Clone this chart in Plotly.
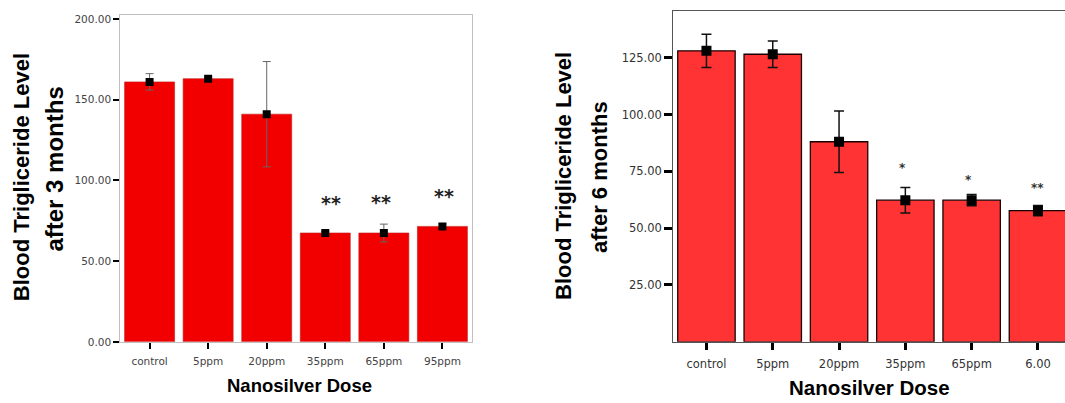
import plotly.graph_objects as go

# ---- data ----
cats_3m = ["control", "5ppm", "20ppm", "35ppm", "65ppm", "95ppm"]
mean_3m = [161.0, 163.0, 141.0, 67.4, 67.4, 71.5]
err_3m = [5.1, 1.0, 32.6, 1.0, 5.5, 1.5]
stars_3m_cat = ["35ppm", "65ppm", "95ppm"]
stars_3m_y = [89.1, 89.5, 93.5]
stars_3m_txt = ["**", "**", "**"]
stars_3m_dx = [6, -3, 2]

cats_6m = ["control", "5ppm", "20ppm", "35ppm", "65ppm", "6.00"]
mean_6m = [128.0, 126.5, 88.0, 62.3, 62.3, 57.7]
err_6m = [7.3, 5.8, 13.5, 5.6, 2.5, 2.3]
stars_6m_cat = ["35ppm", "65ppm", "6.00"]
stars_6m_y = [77.9, 72.3, 68.8]
stars_6m_txt = ["*", "*", "**"]
stars_6m_dx = [-3, -3, 0]

yticks_3m = [0, 50, 100, 150, 200]
yticks_6m = [25, 50, 75, 100, 125]

W, H = 1065, 403

def px_x(p):
    return p / W

def px_y(p):
    return (H - p) / H

fig = go.Figure()

# left chart
fig.add_trace(go.Bar(
    x=cats_3m, y=mean_3m, xaxis="x", yaxis="y", width=0.854,
    marker=dict(color="#f20000", line=dict(color="#c02020", width=0.6)),
    hoverinfo="skip", showlegend=False))
fig.add_trace(go.Scatter(
    x=cats_3m, y=mean_3m, xaxis="x", yaxis="y", mode="markers",
    marker=dict(symbol="square", size=8, color="black"),
    error_y=dict(type="data", array=err_3m, color="#666666", thickness=1, width=4),
    hoverinfo="skip", showlegend=False))

# right chart
fig.add_trace(go.Bar(
    x=cats_6m, y=mean_6m, xaxis="x2", yaxis="y2", width=0.866,
    marker=dict(color="#ff3333", line=dict(color="#1a0000", width=1.3)),
    hoverinfo="skip", showlegend=False))
fig.add_trace(go.Scatter(
    x=cats_6m, y=mean_6m, xaxis="x2", yaxis="y2", mode="markers",
    marker=dict(symbol="square", size=10, color="black"),
    error_y=dict(type="data", array=err_6m, color="#111111", thickness=1.5, width=5),
    hoverinfo="skip", showlegend=False))

tick_font_l = dict(family="DejaVu Sans", size=10.5, color="#444444")
tick_font_r = dict(family="DejaVu Sans", size=11.5, color="#333333")

annotations = []
for c, yv, t, dx in zip(stars_3m_cat, stars_3m_y, stars_3m_txt, stars_3m_dx):
    annotations.append(dict(x=cats_3m.index(c), y=yv, xref="x", yref="y", text=f"<b>{t}</b>",
                            showarrow=False, xshift=dx, yshift=-5,
                            font=dict(family="DejaVu Sans", size=19, color="#222222")))
for c, yv, t, dx in zip(stars_6m_cat, stars_6m_y, stars_6m_txt, stars_6m_dx):
    annotations.append(dict(x=cats_6m.index(c), y=yv, xref="x2", yref="y2", text=f"<b>{t}</b>",
                            showarrow=False, xshift=dx, yshift=-3,
                            font=dict(family="DejaVu Sans", size=12, color="#333333")))

title_font = dict(family="Liberation Sans, Arial", color="black")
annotations += [
    dict(x=px_x(21.7), y=px_y(179), xref="paper", yref="paper", text="<b>Blood Trigliceride Level</b>",
         textangle=-90, showarrow=False, xanchor="center", yanchor="middle", font=dict(size=22, **title_font)),
    dict(x=px_x(55), y=px_y(171), xref="paper", yref="paper", text="<b>after 3 months</b>",
         textangle=-90, showarrow=False, xanchor="center", yanchor="middle", font=dict(size=24, **title_font)),
    dict(x=px_x(564), y=px_y(177.5), xref="paper", yref="paper", text="<b>Blood Trigliceride Level</b>",
         textangle=-90, showarrow=False, xanchor="center", yanchor="middle", font=dict(size=22, **title_font)),
    dict(x=px_x(600), y=px_y(178.5), xref="paper", yref="paper", text="<b>after 6 months</b>",
         textangle=-90, showarrow=False, xanchor="center", yanchor="middle", font=dict(size=22, **title_font)),
    dict(x=px_x(299), y=px_y(391), xref="paper", yref="paper", text="<b>Nanosilver Dose</b>",
         showarrow=False, xanchor="center", yanchor="middle", font=dict(size=18.5, **title_font)),
    dict(x=px_x(869), y=px_y(393), xref="paper", yref="paper", text="<b>Nanosilver Dose</b>",
         showarrow=False, xanchor="center", yanchor="middle", font=dict(size=20.5, **title_font)),
]

fig.update_layout(
    width=W, height=H,
    margin=dict(l=0, r=0, t=0, b=0),
    paper_bgcolor="white", plot_bgcolor="white",
    xaxis=dict(domain=[px_x(120.3), px_x(471.7)], type="category", range=[-0.5, 5.5],
               showline=True, linecolor="#c0c0c0", linewidth=1, mirror=True,
               ticks="outside", ticklen=6, tickwidth=2, tickcolor="black",
               ticklabelstandoff=4,
               tickfont=tick_font_l, showgrid=False, zeroline=False, fixedrange=True),
    yaxis=dict(domain=[px_y(346.7), px_y(13.3)], range=[0, 202.4],
               tickvals=yticks_3m, ticktext=[f"{v:.2f}" for v in yticks_3m],
               showline=True, linecolor="#c0c0c0", linewidth=1, mirror=True,
               ticks="outside", ticklen=6, tickwidth=2, tickcolor="black",
               ticklabelstandoff=0,
               tickfont=tick_font_l, showgrid=False, zeroline=False, fixedrange=True),
    xaxis2=dict(domain=[px_x(673.3), 1.0], type="category", range=[-0.5, 5.408],
                anchor="y2",
                showline=True, linecolor="#555555", linewidth=1.2, mirror=True,
                ticks="outside", ticklen=7, tickwidth=2.5, tickcolor="black",
                ticklabelstandoff=4,
                tickfont=tick_font_r, showgrid=False, zeroline=False, fixedrange=True),
    yaxis2=dict(domain=[px_y(346.7), px_y(9)], range=[0, 145.6], anchor="x2",
                tickvals=yticks_6m, ticktext=[f"{v:.2f}" for v in yticks_6m],
                showline=True, linecolor="#555555", linewidth=1.2, mirror=False,
                ticks="outside", ticklen=8, tickwidth=2.5, tickcolor="black",
                ticklabelstandoff=0,
                tickfont=tick_font_r, showgrid=False, zeroline=False, fixedrange=True),
    annotations=annotations,
)

fig.write_html("out.html", config={"displayModeBar": False},
               post_script="document.body.style.margin='0';document.body.style.overflow='hidden';")
